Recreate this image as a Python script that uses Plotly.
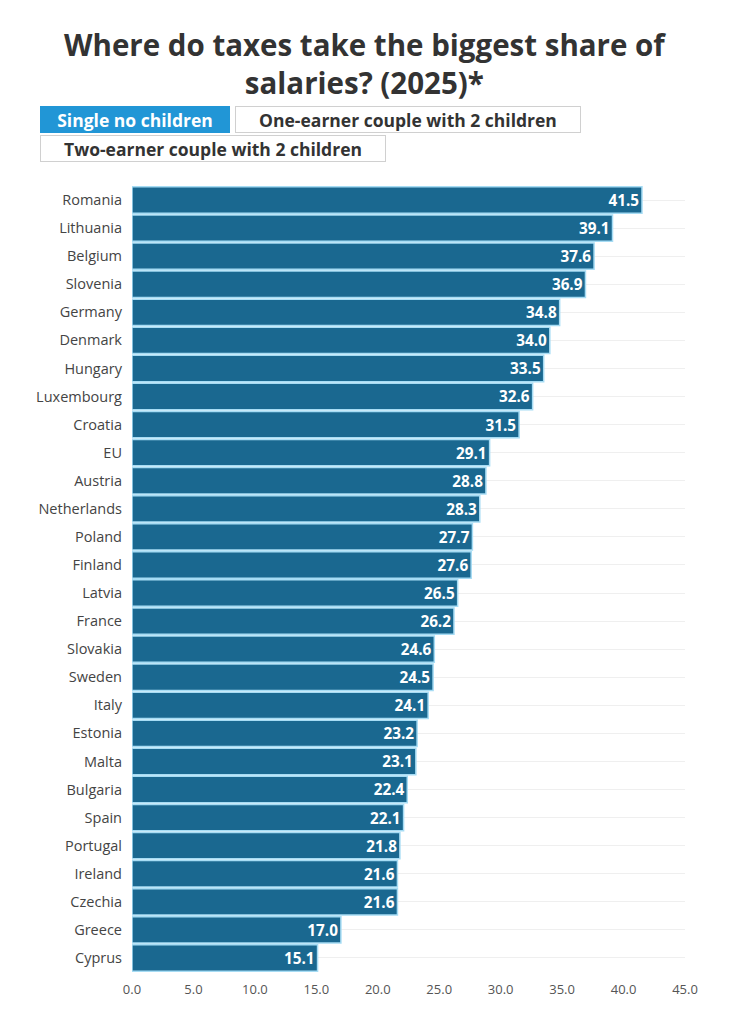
import plotly.graph_objects as go

# data, top to bottom as shown
countries = ["Romania", "Lithuania", "Belgium", "Slovenia", "Germany", "Denmark", "Hungary",
             "Luxembourg", "Croatia", "EU", "Austria", "Netherlands", "Poland", "Finland",
             "Latvia", "France", "Slovakia", "Sweden", "Italy", "Estonia", "Malta", "Bulgaria",
             "Spain", "Portugal", "Ireland", "Czechia", "Greece", "Cyprus"]
tax_share = [41.5, 39.1, 37.6, 36.9, 34.8, 34.0, 33.5, 32.6, 31.5, 29.1, 28.8, 28.3, 27.7, 27.6,
             26.5, 26.2, 24.6, 24.5, 24.1, 23.2, 23.1, 22.4, 22.1, 21.8, 21.6, 21.6, 17.0, 15.1]
tick_vals = [0, 5, 10, 15, 20, 25, 30, 35, 40, 45]
button_labels = ["Single no children", "One-earner couple with 2 children",
                 "Two-earner couple with 2 children"]
title_text = "Where do taxes take the biggest share of<br>salaries? (2025)*"

font = "Open Sans"

fig = go.Figure()
fig.add_trace(go.Bar(
  x=tax_share, y=countries, orientation="h",
  marker=dict(color="#1a6890", line=dict(color="#a6dcf4", width=1.5)),
  text=["%.1f" % v for v in tax_share], textposition="inside", insidetextanchor="end",
  textfont=dict(family=font, size=18, color="white", weight="bold"),
  cliponaxis=False,
))

# page pixel -> paper coords (plot area spans 132..685 in x, 186..972 in y on the page)
def px(x):
  return (x - 132) / 553.0
def py(y):
  return (972 - y) / 786.0

# title as annotation so it sits where I want it
annotations = [dict(
  text="<b>" + title_text + "</b>", xref="paper", yref="paper", x=px(364.5), y=py(22),
  xanchor="center", yanchor="top", showarrow=False,
  font=dict(family=font, size=29.5, color="#333333"),
)]

# fake "tab" buttons drawn as annotations
buttons = [
  (button_labels[0], 40, 106, 186, "#2196d6", "#2196d6", "white"),
  (button_labels[1], 235, 106, 342, "white", "#d0d0d0", "#333333"),
  (button_labels[2], 40, 135, 342, "white", "#d0d0d0", "#333333"),
]
for label, bx, by, bw, bg, bc, fc in buttons:
  annotations.append(dict(
    text="<b>" + label + "</b>", xref="paper", yref="paper", x=px(bx), y=py(by),
    xanchor="left", yanchor="top", showarrow=False, width=bw, height=23,
    bgcolor=bg, bordercolor=bc, borderwidth=1, borderpad=1,
    font=dict(family=font, size=17.5, color=fc),
  ))

# page has an 8px body margin, so the figure is drawn a bit smaller
fig.update_layout(
  width=713, height=1008,
  margin=dict(l=124, r=36, t=178, b=44),
  paper_bgcolor="white", plot_bgcolor="white",
  bargap=0.06,
  showlegend=False,
  annotations=annotations,
  xaxis=dict(range=[0, 45], tickvals=tick_vals, tickformat=".1f", showgrid=False,
             zeroline=False, showline=False, ticks="", automargin=False,
             ticklabelstandoff=8,
             tickfont=dict(family=font, size=13, color="#555555")),
  yaxis=dict(autorange="reversed", showgrid=True, gridcolor="#efefef", ticks="",
             ticklabelstandoff=9, automargin=False,
             tickfont=dict(family=font, size=14.5, color="#444444")),
)

fig.write_html("out.html")
